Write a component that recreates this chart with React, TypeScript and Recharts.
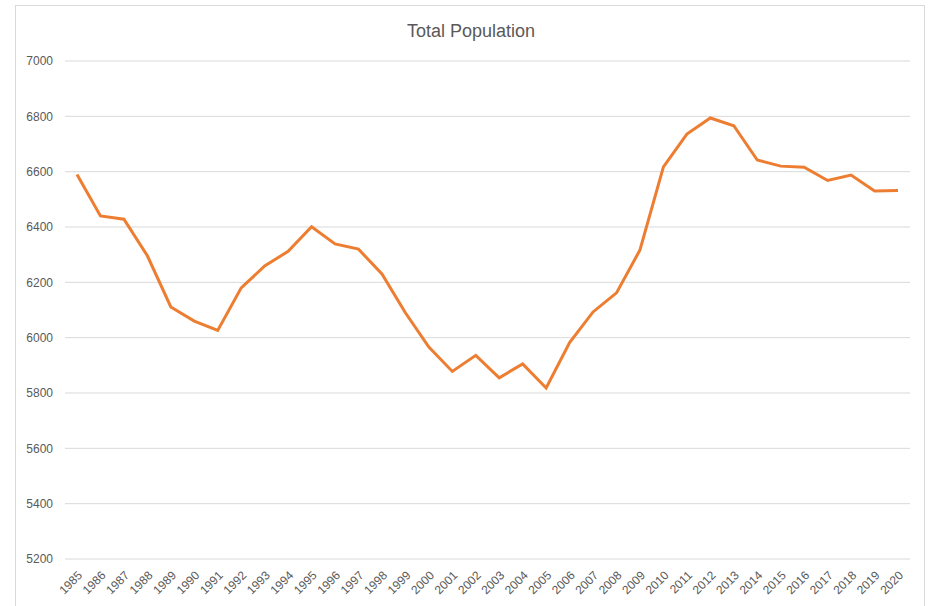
import { CartesianGrid, Line, LineChart, XAxis, YAxis } from "recharts";

const years = [
  "1985", "1986", "1987", "1988", "1989", "1990", "1991", "1992", "1993",
  "1994", "1995", "1996", "1997", "1998", "1999", "2000", "2001", "2002",
  "2003", "2004", "2005", "2006", "2007", "2008", "2009", "2010", "2011",
  "2012", "2013", "2014", "2015", "2016", "2017", "2018", "2019", "2020",
];

const population = [
  6590, 6440, 6428, 6296, 6111, 6060, 6026, 6180, 6259,
  6312, 6401, 6339, 6320, 6230, 6090, 5966, 5878, 5936,
  5855, 5905, 5818, 5982, 6093, 6162, 6317, 6617, 6736,
  6794, 6766, 6642, 6620, 6616, 6568, 6588, 6530, 6532,
];

const yTicks = [5200, 5400, 5600, 5800, 6000, 6200, 6400, 6600, 6800, 7000];

const data = years.map((year, i) => ({ year, value: population[i] }));

const font = "Liberation Sans, Arial, sans-serif";

export default function App() {
  return (
    <div
      style={{
        position: "fixed",
        left: 0,
        top: 0,
        width: 932,
        height: 606,
        background: "#fff",
        overflow: "hidden",
        fontFamily: font,
      }}
    >
      <div
        style={{
          position: "absolute",
          left: 15,
          top: 5,
          width: 910,
          height: 620,
          border: "1px solid #d9d9d9",
          boxSizing: "border-box",
        }}
      />
      <div
        style={{
          position: "absolute",
          left: 0,
          top: 21,
          width: 942,
          textAlign: "center",
          fontSize: 18,
          color: "#595959",
        }}
      >
        Total Population
      </div>
      <div style={{ position: "absolute", left: 0, top: 0 }}>
        <LineChart
          width={932}
          height={606}
          data={data}
          margin={{ top: 61, right: 22, bottom: 7, left: 15 }}
        >
          <CartesianGrid vertical={false} stroke="#d9d9d9" strokeWidth={1} />
          <XAxis
            dataKey="year"
            interval={0}
            angle={-45}
            textAnchor="end"
            height={40}
            padding={{ left: 12, right: 12 }}
            axisLine={false}
            tickLine={false}
            tickMargin={5}
            tick={{ fontSize: 12, fill: "#595959", fontFamily: font }}
          />
          <YAxis
            domain={[5200, 7000]}
            ticks={yTicks}
            width={50}
            axisLine={false}
            tickLine={false}
            tickMargin={6}
            tick={{ fontSize: 12, fill: "#595959", fontFamily: font }}
          />
          <Line
            type="linear"
            dataKey="value"
            stroke="#ED7D31"
            strokeWidth={3}
            dot={false}
            isAnimationActive={false}
          />
        </LineChart>
      </div>
    </div>
  );
}
